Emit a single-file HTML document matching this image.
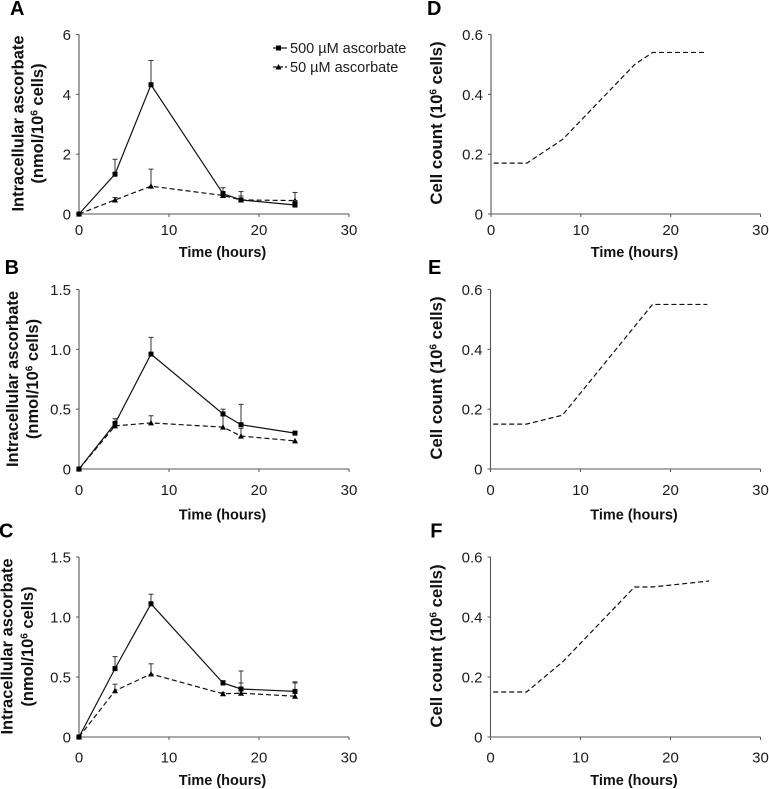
<!DOCTYPE html>
<html lang="en">
<head>
<meta charset="utf-8">
<title>Intracellular ascorbate and cell count over time</title>
<style>
html,body{margin:0;padding:0;background:#fff;}
#figure{display:block;width:769px;height:789px;font-family:"Liberation Sans",Arial,sans-serif;}
.tick-label{font-size:15px;fill:#1c1c1c;}
.axis-title{font-size:14.5px;font-weight:bold;fill:#111;}
.y-title{font-weight:bold;fill:#111;}
.panel-letter{font-size:20px;font-weight:bold;fill:#000;}
.legend-text{font-size:14.5px;fill:#1c1c1c;}
</style>
</head>
<body>
<svg id="figure" xmlns="http://www.w3.org/2000/svg" width="769" height="789" viewBox="0 0 769 789">
  <g id="plots"></g>
  <g id="legend" transform="translate(273,48)">
    <line x1="0" x2="14" y1="0" y2="0" stroke="#111" stroke-width="1.2"/>
    <rect x="3" y="-2.5" width="5" height="5" fill="#000"/>
    <text class="legend-text" x="17" y="5">500 µM ascorbate</text>
    <line x1="0" x2="14" y1="19" y2="19" stroke="#111" stroke-width="1.2" stroke-dasharray="4 2"/>
    <polygon points="2.5,21.5 8.5,21.5 5.5,16" fill="#000"/>
    <text class="legend-text" x="17" y="24">50 µM ascorbate</text>
  </g>
</svg>
<script>
const timePoints = [0, 4, 8, 16, 18, 24];
const xTicks = [0, 10, 20, 30];
const ascA500 = [0, 1.33, 4.32, 0.68, 0.47, 0.30];
const ascA500Top = [null, 1.83, 5.13, 0.88, 0.75, 0.45];
const ascA50 = [0, 0.47, 0.93, 0.62, 0.47, 0.45];
const ascA50Top = [null, 0.55, 1.50, 0.75, 0.60, 0.72];
const yTicksA = [0, 2, 4, 6];
const yLabelsA = ['0', '2', '4', '6'];
const ascB500 = [0, 0.38, 0.96, 0.46, 0.37, 0.30];
const ascB500Top = [null, 0.42, 1.10, 0.50, 0.54, null];
const ascB50 = [0, 0.36, 0.385, 0.35, 0.275, 0.235];
const ascB50Top = [null, 0.39, 0.445, 0.46, 0.34, null];
const ascC500 = [0, 0.57, 1.11, 0.45, 0.40, 0.38];
const ascC500Top = [null, 0.67, 1.19, 0.47, 0.55, 0.46];
const ascC50 = [0, 0.385, 0.525, 0.36, 0.365, 0.34];
const ascC50Top = [null, 0.44, 0.61, 0.37, 0.45, 0.45];
const yTicksAsc = [0, 0.5, 1.0, 1.5];
const yLabelsAsc = ['0', '0.5', '1.0', '1.5'];
const countTimesD = [0.3, 4, 8, 16, 18, 24];
const countD = [0.17, 0.17, 0.25, 0.50, 0.54, 0.54];
const countTimesE = [0.3, 4, 8, 18, 24.1];
const countE = [0.15, 0.15, 0.18, 0.55, 0.55];
const countTimesF = [0.3, 4, 8, 16, 18, 24.3];
const countF = [0.15, 0.15, 0.25, 0.50, 0.50, 0.52];
const yTicksCount = [0, 0.2, 0.4, 0.6];
const yLabelsCount = ['0', '0.2', '0.4', '0.6'];

const NS = 'http://www.w3.org/2000/svg';
const plots = document.getElementById('plots');

function mk(parent, tag, attrs, text) {
  const el = document.createElementNS(NS, tag);
  for (const k in attrs) el.setAttribute(k, attrs[k]);
  if (text !== undefined) el.textContent = text;
  parent.appendChild(el);
  return el;
}

function axisTitleY(g, cy, lines, size) {
  lines.forEach(function (line) {
    const t = mk(g, 'text', {
      class: 'y-title',
      'font-size': size,
      'text-anchor': 'middle',
      transform: 'translate(' + line.x + ',' + cy + ') rotate(-90)'
    });
    
    
    line.parts.forEach(function (p) {
      const s = mk(t, 'tspan', p.sup ? { 'font-size': '10px', dy: '-5.5' } : (p.after ? { dy: '5.5' } : {}), p.text);
      
      
    });
  });
}

function drawPanel(cfg) {
  const g = mk(plots, 'g', {});
  
  
  const sx = function (v) { return cfg.x0 + (v / 30) * (cfg.x30 - cfg.x0); };
  const yMax = cfg.yTicks[cfg.yTicks.length - 1];
  const sy = function (v) { return cfg.y0 - (v / yMax) * (cfg.y0 - cfg.yTop); };

  const letter = mk(g, 'text', { class: 'panel-letter', x: cfg.letterX, y: cfg.letterY }, cfg.letter);
  
  

  const yAxis = mk(g, 'line', { x1: cfg.x0, x2: cfg.x0, y1: cfg.yTop, y2: cfg.y0, stroke: '#555', 'stroke-width': 1.1 });
  
  
  const xAxis = mk(g, 'line', { x1: cfg.x0, x2: cfg.x30, y1: cfg.y0, y2: cfg.y0, stroke: '#777', 'stroke-width': 1.2 });
  
  

  cfg.yTicks.forEach(function (v, i) {
    const tk = mk(g, 'line', { x1: cfg.x0 - 3, x2: cfg.x0, y1: sy(v), y2: sy(v), stroke: '#555', 'stroke-width': 1 });
    
    
    const lb = mk(g, 'text', { class: 'tick-label', 'text-anchor': 'end', x: cfg.x0 - 8, y: sy(v) + 5.5 }, cfg.yLabels[i]);
    
    
  });
  xTicks.forEach(function (v) {
    const tk = mk(g, 'line', { x1: sx(v), x2: sx(v), y1: cfg.y0, y2: cfg.y0 + 3, stroke: '#555', 'stroke-width': 1 });
    
    
    const lb = mk(g, 'text', { class: 'tick-label', 'text-anchor': 'middle', x: sx(v), y: cfg.tickY }, String(v));
    
    
  });

  const xt = mk(g, 'text', { class: 'axis-title', 'text-anchor': 'middle', x: sx(0) + 143.5, y: cfg.titleY }, 'Time (hours)');
  
  
  axisTitleY(g, cfg.yTitleCy, cfg.yTitleLines, cfg.yTitleSize);

  cfg.series.forEach(function (s) {
    const grp = mk(g, 'g', {});
    
    
    if (s.top) {
      s.top.forEach(function (t, i) {
        if (t === null) return;
        const px = sx(s.times[i]);
        const bar = mk(grp, 'line', { x1: px, x2: px, y1: sy(s.values[i]), y2: sy(t), stroke: '#333', 'stroke-width': 1 });
        
        
        const cap = mk(grp, 'line', { x1: px - 2.5, x2: px + 2.5, y1: sy(t), y2: sy(t), stroke: '#333', 'stroke-width': 1 });
        
        
      });
    }
    const pts = s.times.map(function (t, i) { return sx(t) + ',' + sy(s.values[i]); }).join(' ');
    const attrs = { points: pts, fill: 'none', stroke: '#111', 'stroke-width': 1.2 };
    if (s.dashed) attrs['stroke-dasharray'] = '5 3';
    const line = mk(grp, 'polyline', attrs);
    
    
    s.times.forEach(function (t, i) {
      if (s.marker === 'square') {
        const m = mk(grp, 'rect', { x: sx(t) - 2.5, y: sy(s.values[i]) - 2.5, width: 5, height: 5, fill: '#000' });
        
        
      } else if (s.marker === 'triangle') {
        const cx = sx(t), cy = sy(s.values[i]);
        const m = mk(grp, 'polygon', { points: (cx - 3) + ',' + (cy + 2.5) + ' ' + (cx + 3) + ',' + (cy + 2.5) + ' ' + cx + ',' + (cy - 3), fill: '#000' });
        
        
      }
    });
  });
}

function ascTitle(x1, x2) {
  return [
    { x: x1, parts: [{ text: 'Intracellular ascorbate' }] },
    { x: x2, parts: [{ text: '(nmol/10' }, { text: '6', sup: true }, { text: ' cells)', after: true }] }
  ];
}
function countTitle(x) {
  return [{ x: x, parts: [{ text: 'Cell count (10' }, { text: '6', sup: true }, { text: ' cells)', after: true }] }];
}
function ascSeries(v500, t500, v50, t50) {
  return [
    { name: '50-um', times: timePoints, values: v50, top: t50, marker: 'triangle', dashed: true },
    { name: '500-um', times: timePoints, values: v500, top: t500, marker: 'square', dashed: false }
  ];
}

drawPanel({ letter: 'A', letterX: 10, letterY: 15, x0: 79, x30: 349, yTop: 34.5, y0: 214, tickY: 235, titleY: 257, yTicks: yTicksA, yLabels: yLabelsA, yTitleCy: 123.5, yTitleSize: 16.5, yTitleLines: ascTitle(23.5, 43), series: ascSeries(ascA500, ascA500Top, ascA50, ascA50Top) });
drawPanel({ letter: 'B', letterX: 4.6, letterY: 274, x0: 79, x30: 349, yTop: 289.5, y0: 469, tickY: 495, titleY: 519.5, yTicks: yTicksAsc, yLabels: yLabelsAsc, yTitleCy: 379, yTitleSize: 16.5, yTitleLines: ascTitle(18, 38), series: ascSeries(ascB500, ascB500Top, ascB50, ascB50Top) });
drawPanel({ letter: 'C', letterX: -1, letterY: 537.5, x0: 79, x30: 349, yTop: 557, y0: 737, tickY: 762.5, titleY: 785, yTicks: yTicksAsc, yLabels: yLabelsAsc, yTitleCy: 646.5, yTitleSize: 16.5, yTitleLines: ascTitle(12.5, 33), series: ascSeries(ascC500, ascC500Top, ascC50, ascC50Top) });
drawPanel({ letter: 'D', letterX: 427, letterY: 15, x0: 491, x30: 760.5, yTop: 34.5, y0: 214, tickY: 235, titleY: 257, yTicks: yTicksCount, yLabels: yLabelsCount, yTitleCy: 123, yTitleSize: 16.8, yTitleLines: countTitle(442), series: [{ name: 'cell-count', times: countTimesD, values: countD, dashed: true }] });
drawPanel({ letter: 'E', letterX: 428, letterY: 274, x0: 490.5, x30: 760.5, yTop: 289.5, y0: 469, tickY: 495, titleY: 519.5, yTicks: yTicksCount, yLabels: yLabelsCount, yTitleCy: 378, yTitleSize: 16.8, yTitleLines: countTitle(442), series: [{ name: 'cell-count', times: countTimesE, values: countE, dashed: true }] });
drawPanel({ letter: 'F', letterX: 430.3, letterY: 537.5, x0: 490.5, x30: 760.5, yTop: 557, y0: 737, tickY: 762.5, titleY: 785, yTicks: yTicksCount, yLabels: yLabelsCount, yTitleCy: 646, yTitleSize: 16.8, yTitleLines: countTitle(442), series: [{ name: 'cell-count', times: countTimesF, values: countF, dashed: true }] });
</script>
</body>
</html>
